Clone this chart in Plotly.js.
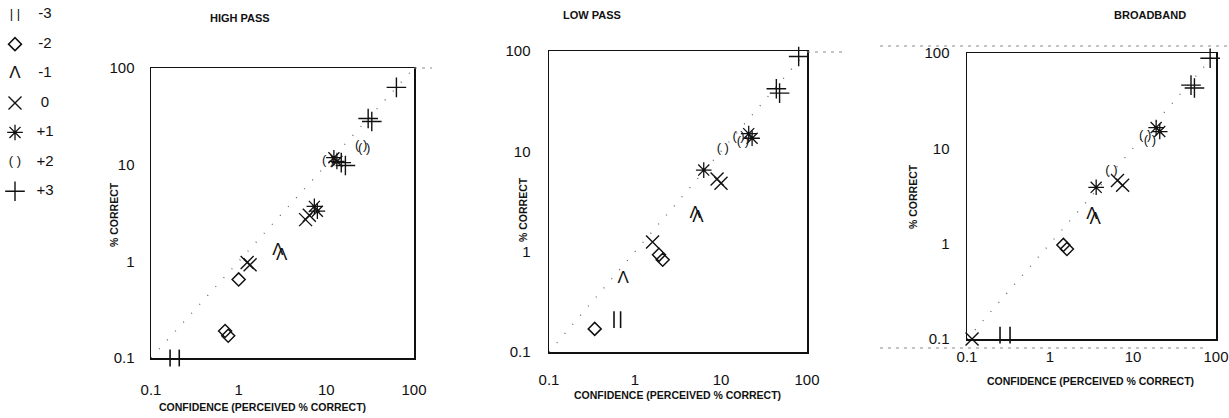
<!DOCTYPE html>
<html>
<head>
<meta charset="utf-8">
<script src="https://cdn.plot.ly/plotly-3.0.1.min.js"></script>
<style>
  html, body { margin: 0; padding: 0; background: #fff; }
  #chart { width: 1229px; height: 418px; }
</style>
</head>
<body>
<div id="chart"></div>
<script>
// ---- categories (confidence levels) ----
const levels = ['-3', '-2', '-1', '0', '+1', '+2', '+3'];
const panelTitles = ['HIGH PASS', 'LOW PASS', 'BROADBAND'];
const tickVals = [0.1, 1, 10, 100];
const tickText = ['0.1', '1', '10', '100'];
const xTitle = 'CONFIDENCE (PERCEIVED % CORRECT)';
const yTitle = '% CORRECT';

// ---- HIGH PASS: x = confidence, y = % correct, one sub-array per level ----
const highPassX = [[0.165, 0.21], [0.70, 0.76, 1.0], [2.8, 3.1], [1.25, 1.35, 5.8, 6.4], [7.3, 7.9, 12.2, 13.2], [10.5, 25, 27], [14.8, 16.5, 30, 33, 63]];
const highPassY = [[0.1, 0.1], [0.19, 0.17, 0.65], [1.3, 1.15], [0.97, 0.92, 2.7, 3.0], [3.7, 3.3, 11.8, 10.8], [11, 15.8, 14.5], [10.5, 9.8, 30, 28, 63]];

// ---- LOW PASS ----
const lowPassX = [[0.57, 0.68], [0.34, 1.9, 2.1], [0.73, 5.0, 5.4], [1.6, 9.0, 10.0], [6.3, 21, 23], [10.5, 16, 18], [44, 48, 80]];
const lowPassY = [[0.21, 0.21], [0.17, 0.93, 0.83], [0.54, 2.4, 2.2], [1.25, 5.3, 4.8], [6.5, 15, 13.5], [10.7, 14, 12.5], [42, 38, 88]];

// ---- BROADBAND ----
const broadbandX = [[0.25, 0.33], [1.45, 1.6], [3.2, 3.5], [0.115, 6.5, 7.5], [3.6, 19, 21], [5.5, 14, 16], [50, 55, 85]];
const broadbandY = [[0.11, 0.11], [0.97, 0.88], [2.0, 1.8], [0.1, 4.6, 4.1], [3.9, 16.5, 15], [5.8, 13.5, 12], [46, 43, 88]];

// ---- identity reference (perfect calibration) ----
const diagX = [0.1, 100];
const diagY = [0.1, 100];

const panelX = [highPassX, lowPassX, broadbandX];
const panelY = [highPassY, lowPassY, broadbandY];

const INK = '#111';
const FONT = 'Liberation Sans, Arial, Helvetica, sans-serif';

// marker style per level (index-aligned with levels)
const styles = [
  { kind: 'marker', symbol: 'line-ns-open', size: 12, lw: 1.6, legendText: '| |' },
  { kind: 'marker', symbol: 'diamond-open', size: 10, lw: 1.5 },
  { kind: 'text', text: 'Λ', size: 17 },
  { kind: 'marker', symbol: 'x-thin-open', size: 13, lw: 1.4 },
  { kind: 'marker', symbol: 'asterisk-open', size: 13, lw: 1.3 },
  { kind: 'text', text: '( )', size: 13 },
  { kind: 'marker', symbol: 'cross-thin-open', size: 14, lw: 1.4 }
];

function styledTrace(xs, ys, i, xa, ya, isLegend) {
  const s = styles[i];
  const t = { x: xs, y: ys, xaxis: xa, yaxis: ya, type: 'scatter', cliponaxis: false, showlegend: false, hoverinfo: 'skip', name: levels[i] };
  if (isLegend && s.legendText) {
    t.mode = 'text';
    t.text = xs.map(() => s.legendText);
    t.textposition = 'middle center';
    t.textfont = { family: FONT, size: 13, color: INK };
  } else if (s.kind === 'marker') {
    t.mode = 'markers';
    t.marker = { symbol: s.symbol, size: s.size, color: INK, line: { color: INK, width: s.lw } };
  } else {
    t.mode = 'text';
    t.text = xs.map(() => s.text);
    t.textposition = 'middle center';
    t.textfont = { family: FONT, size: s.size, color: INK };
  }
  return t;
}

const traces = [];
for (let p = 0; p < 3; p++) {
  const xa = p === 0 ? 'x' : 'x' + (p + 1);
  const ya = p === 0 ? 'y' : 'y' + (p + 1);
  traces.push({ x: diagX, y: diagY, xaxis: xa, yaxis: ya, type: 'scatter', mode: 'lines', showlegend: false, hoverinfo: 'skip',
    line: { color: '#666', width: 1.3, dash: '1px,11px' } });
  for (let i = 0; i < levels.length; i++) {
    traces.push(styledTrace(panelX[p][i], panelY[p][i], i, xa, ya, false));
  }
}

// legend drawn on its own hidden axis
for (let i = 0; i < levels.length; i++) {
  traces.push(styledTrace([0], [levels[i]], i, 'x4', 'y4', true));
  traces.push({ x: [1], y: [levels[i]], xaxis: 'x4', yaxis: 'y4', type: 'scatter', mode: 'text', text: [levels[i]],
    textposition: 'middle center', textfont: { family: FONT, size: 15, color: INK }, showlegend: false, hoverinfo: 'skip' });
}

const W = 1229, H = 418;
function px(a, b) { return [a / W, b / W]; }
function py(top, bottom) { return [(H - bottom) / H, (H - top) / H]; }

// panel boxes in pixels: [left, right, top, bottom]
const boxes = [[151, 414, 68, 358], [549, 807, 51, 352], [967, 1216, 53, 339]];
const tickGapX = [17, 13, 3];
const tickGapY = [12, 14, 13];

function logAxis(dom, gap, anchor) {
  return {
    type: 'log', range: [-1, 2], domain: dom, anchor: anchor,
    showline: true, linecolor: INK, linewidth: 1.5, mirror: true,
    showgrid: false, zeroline: false,
    tickmode: 'array', tickvals: tickVals, ticktext: tickText,
    ticks: 'outside', ticklen: gap, tickcolor: 'rgba(0,0,0,0)',
    tickfont: { family: FONT, size: 15, color: INK }
  };
}

const layout = {
  width: W, height: H,
  margin: { l: 0, r: 0, t: 0, b: 0 },
  paper_bgcolor: '#fff', plot_bgcolor: '#fff',
  showlegend: false,
  xaxis4: { domain: px(0, 90), range: [-0.5, 2.5], visible: false, anchor: 'y4' },
  yaxis4: { domain: py(0, 206), type: 'category', categoryorder: 'array', categoryarray: levels.slice().reverse(), range: [-0.5, 6.5], visible: false, anchor: 'x4' },
  annotations: [],
  shapes: []
};

const titlePos = [[240, 18], [592, 15], [1150, 15]];
const xTitlePos = [[262, 407], [677, 395], [1090, 381]];
const yTitlePos = [[114, 215], [523, 210], [913, 197]];

for (let p = 0; p < 3; p++) {
  const b = boxes[p];
  const xk = p === 0 ? 'xaxis' : 'xaxis' + (p + 1);
  const yk = p === 0 ? 'yaxis' : 'yaxis' + (p + 1);
  const xa = p === 0 ? 'x' : 'x' + (p + 1);
  const ya = p === 0 ? 'y' : 'y' + (p + 1);
  layout[xk] = logAxis(px(b[0], b[1]), tickGapX[p], ya);
  layout[yk] = logAxis(py(b[2], b[3]), tickGapY[p], xa);
  layout.annotations.push({ text: '<b>' + panelTitles[p] + '</b>', xref: 'paper', yref: 'paper', x: titlePos[p][0] / W, y: 1 - titlePos[p][1] / H,
    xanchor: 'center', yanchor: 'middle', showarrow: false, font: { family: FONT, size: 11, color: INK } });
  layout.annotations.push({ text: '<b>' + xTitle + '</b>', xref: 'paper', yref: 'paper', x: xTitlePos[p][0] / W, y: 1 - xTitlePos[p][1] / H,
    xanchor: 'center', yanchor: 'middle', showarrow: false, font: { family: FONT, size: 10.5, color: INK } });
  layout.annotations.push({ text: '<b>' + yTitle + '</b>', xref: 'paper', yref: 'paper', x: yTitlePos[p][0] / W, y: 1 - yTitlePos[p][1] / H,
    xanchor: 'center', yanchor: 'middle', textangle: -90, showarrow: false, font: { family: FONT, size: 10.5, color: INK } });
}

// faint scan-edge rules seen in the source figure
const rules = [[414, 432, 68], [807, 842, 52], [880, 1229, 46], [880, 1205, 348]];
rules.forEach(r => layout.shapes.push({ type: 'line', xref: 'paper', yref: 'paper', x0: r[0] / W, x1: r[1] / W, y0: 1 - r[2] / H, y1: 1 - r[2] / H,
  line: { color: '#888', width: 1, dash: '3px,5px' } }));

Plotly.newPlot('chart', traces, layout, { displayModeBar: false, staticPlot: true });
</script>
</body>
</html>
